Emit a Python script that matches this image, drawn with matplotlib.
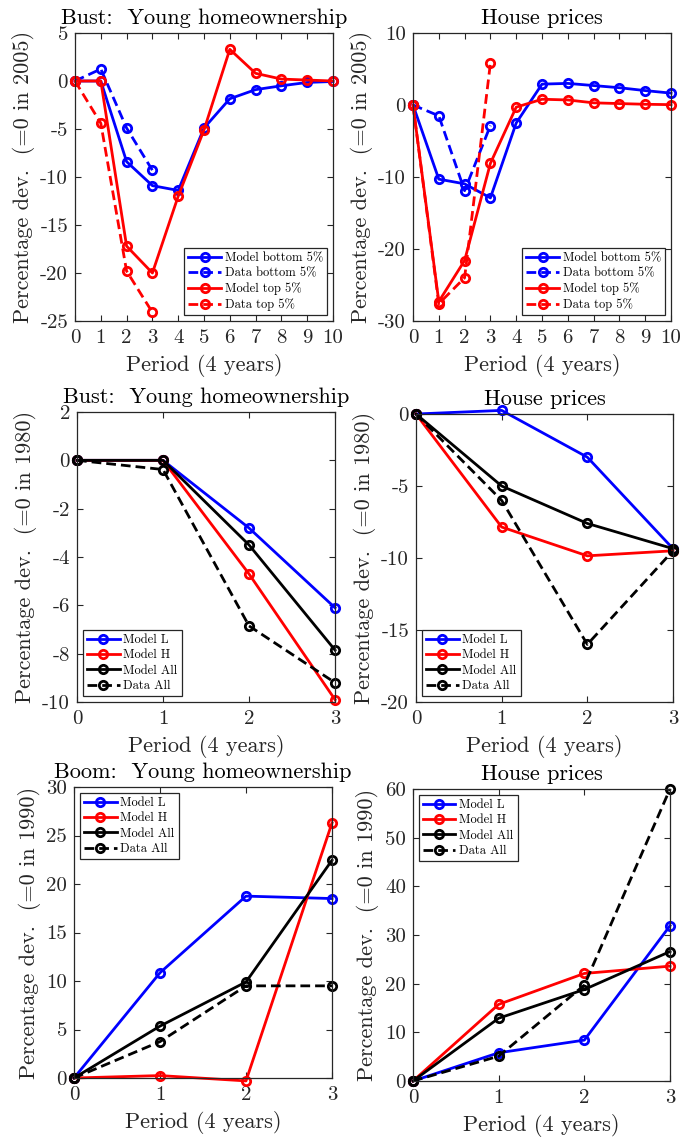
import numpy as np
import matplotlib
matplotlib.use("Agg")
import matplotlib.pyplot as plt

plt.rcParams['font.family'] = ['cmr10', 'DejaVu Serif']
plt.rcParams['axes.unicode_minus'] = False
plt.rcParams['mathtext.fontset'] = 'cm'

# ---- data: top row (Bust, top/bottom 5%) ----
t10 = list(range(11))
t3 = [0, 1, 2, 3]

ho_model_bottom = [0, 0, -8.4, -10.9, -11.4, -4.9, -1.85, -0.9, -0.5, -0.15, -0.05]
ho_data_bottom = [0, 1.25, -4.9, -9.3]
ho_model_top = [0, 0, -17.2, -20.0, -12.0, -5.1, 3.3, 0.8, 0.2, 0.1, 0.0]
ho_data_top = [0, -4.4, -19.8, -24.1]

hp_model_bottom = [0, -10.3, -10.95, -12.9, -2.5, 2.9, 3.0, 2.7, 2.4, 2.0, 1.65]
hp_data_bottom = [0, -1.5, -11.9, -2.85]
hp_model_top = [0, -27.3, -21.6, -8.1, -0.3, 0.8, 0.7, 0.3, 0.2, 0.1, 0.05]
hp_data_top = [0, -27.6, -24.0, 5.8]

# ---- middle row (Bust, L/H/All) ----
bust_ho_L = [0, 0, -2.8, -6.1]
bust_ho_H = [0, 0, -4.7, -9.9]
bust_ho_All = [0, 0, -3.5, -7.85]
bust_ho_data = [0, -0.38, -6.85, -9.2]

bust_hp_L = [0, 0.25, -3.0, -9.35]
bust_hp_H = [0, -7.85, -9.85, -9.5]
bust_hp_All = [0, -5.0, -7.6, -9.35]
bust_hp_data = [0, -6.0, -16.0, -9.5]

# ---- bottom row (Boom, L/H/All) ----
boom_ho_L = [0, 10.85, 18.75, 18.5]
boom_ho_H = [0, 0.25, -0.3, 26.3]
boom_ho_All = [0, 5.35, 9.9, 22.45]
boom_ho_data = [0, 3.75, 9.5, 9.5]

boom_hp_L = [0, 5.8, 8.4, 31.9]
boom_hp_H = [0, 15.75, 22.1, 23.6]
boom_hp_All = [0, 12.9, 18.8, 26.6]
boom_hp_data = [0, 5.1, 19.7, 60.0]

W, H = 680, 1142
fig = plt.figure(figsize=(W / 100, H / 100), dpi=100)

gray = '#262626'


def make_ax(left, top, right, bottom):
    return fig.add_axes([left / W, 1 - bottom / H, (right - left) / W, (bottom - top) / H])


def style(ax, title, ylab, xticks, yticks, ylim, legloc):
    ax.set_xlim(xticks[0], xticks[-1])
    ax.set_ylim(*ylim)
    ax.set_xticks(xticks)
    ax.set_yticks(yticks)
    ax.tick_params(direction='in', top=True, right=True, length=4, width=0.8,
                   labelsize=15, colors=gray, pad=5)
    ax.tick_params(axis='x', pad=6)
    for s in ax.spines.values():
        s.set_color(gray)
        s.set_linewidth(0.9)
    ax.set_title(title, fontsize=16, pad=6.5)
    ax.set_xlabel('Period (4 years)', fontsize=16, color=gray, labelpad=5)
    ax.set_ylabel(ylab, fontsize=16, color=gray, labelpad=4)
    leg = ax.legend(loc=legloc, fontsize=9, handlelength=2.6, labelspacing=0.25,
                    borderpad=0.35, handletextpad=0.3, borderaxespad=0.45,
                    fancybox=False, framealpha=1)
    leg.get_frame().set_edgecolor(gray)
    leg.get_frame().set_linewidth(0.9)


def line(ax, x, y, color, ls, label):
    ax.plot(x, y, color=color, ls=ls, lw=2, marker='o', ms=6, mfc='none', mew=2,
            label=label, clip_on=False, dashes=(3.5, 1.8) if ls == '--' else (None, None))


# top-left
ax = make_ax(75, 33, 333, 321)
line(ax, t10, ho_model_bottom, 'blue', '-', 'Model bottom 5%')
line(ax, t3, ho_data_bottom, 'blue', '--', 'Data bottom 5%')
line(ax, t10, ho_model_top, 'red', '-', 'Model top 5%')
line(ax, t3, ho_data_top, 'red', '--', 'Data top 5%')
style(ax, 'Bust:  Young homeownership', 'Percentage dev.  (=0 in 2005)',
      t10, np.arange(-25, 6, 5), (-25, 5), 'lower right')

# top-right
ax = make_ax(413, 33, 671, 321)
line(ax, t10, hp_model_bottom, 'blue', '-', 'Model bottom 5%')
line(ax, t3, hp_data_bottom, 'blue', '--', 'Data bottom 5%')
line(ax, t10, hp_model_top, 'red', '-', 'Model top 5%')
line(ax, t3, hp_data_top, 'red', '--', 'Data top 5%')
style(ax, 'House prices', 'Percentage dev.  (=0 in 2005)',
      t10, np.arange(-30, 11, 10), (-30, 10), 'lower right')

# middle-left
ax = make_ax(77, 412, 335, 702)
line(ax, t3, bust_ho_L, 'blue', '-', 'Model L')
line(ax, t3, bust_ho_H, 'red', '-', 'Model H')
line(ax, t3, bust_ho_All, 'black', '-', 'Model All')
line(ax, t3, bust_ho_data, 'black', '--', 'Data All')
style(ax, 'Bust:  Young homeownership', 'Percentage dev.  (=0 in 1980)',
      t3, np.arange(-10, 3, 2), (-10, 2), 'lower left')

# middle-right
ax = make_ax(416, 414, 673, 702)
line(ax, t3, bust_hp_L, 'blue', '-', 'Model L')
line(ax, t3, bust_hp_H, 'red', '-', 'Model H')
line(ax, t3, bust_hp_All, 'black', '-', 'Model All')
line(ax, t3, bust_hp_data, 'black', '--', 'Data All')
style(ax, 'House prices', 'Percentage dev.  (=0 in 1980)',
      t3, np.arange(-20, 1, 5), (-20, 0), 'lower left')

# bottom-left
ax = make_ax(74, 787, 332, 1078)
line(ax, t3, boom_ho_L, 'blue', '-', 'Model L')
line(ax, t3, boom_ho_H, 'red', '-', 'Model H')
line(ax, t3, boom_ho_All, 'black', '-', 'Model All')
line(ax, t3, boom_ho_data, 'black', '--', 'Data All')
style(ax, 'Boom:  Young homeownership', 'Percentage dev.  (=0 in 1990)',
      t3, np.arange(0, 31, 5), (0, 30), 'upper left')

# bottom-right
ax = make_ax(413, 789, 670, 1081)
line(ax, t3, boom_hp_L, 'blue', '-', 'Model L')
line(ax, t3, boom_hp_H, 'red', '-', 'Model H')
line(ax, t3, boom_hp_All, 'black', '-', 'Model All')
line(ax, t3, boom_hp_data, 'black', '--', 'Data All')
style(ax, 'House prices', 'Percentage dev.  (=0 in 1990)',
      t3, np.arange(0, 61, 10), (0, 60), 'upper left')

fig.savefig('out.png', dpi=100)
